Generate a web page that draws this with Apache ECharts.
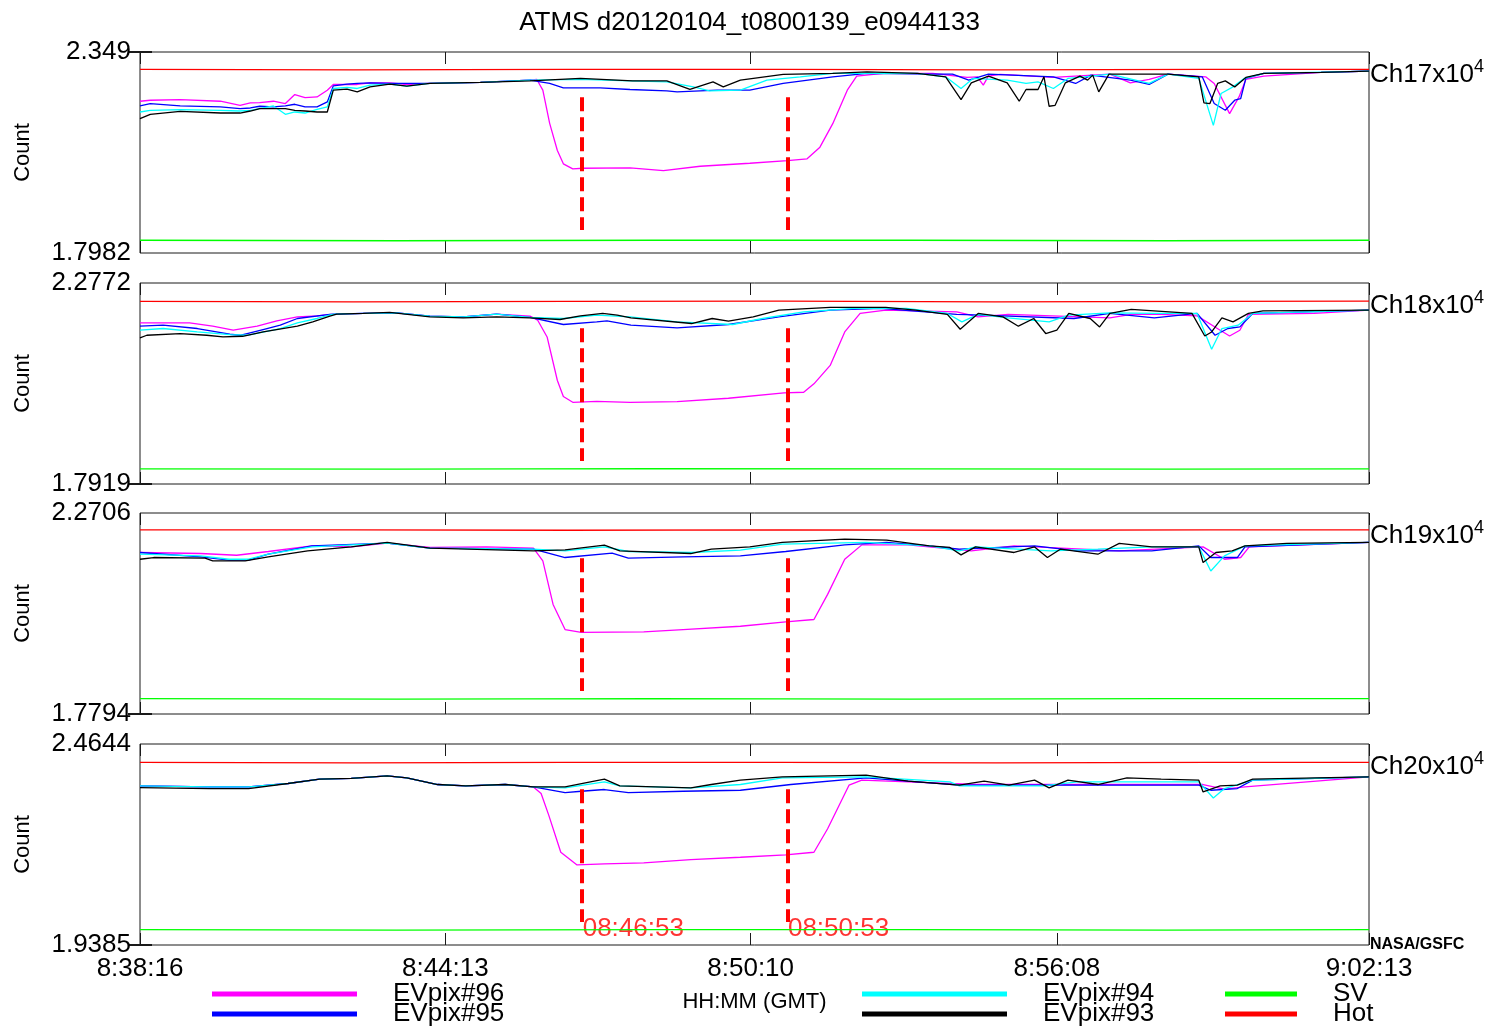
<!DOCTYPE html>
<html>
<head>
<meta charset="utf-8">
<script src="https://cdn.jsdelivr.net/npm/echarts@6/dist/echarts.min.js"></script>
<style>
html,body{margin:0;padding:0;background:#fff;}
#chart{width:1499px;height:1029px;}
</style>
</head>
<body>
<div id="chart"></div>
<script>
// ATMS earth-view / space-view / hot-load counts for channels 17-20 (units of 1e4 counts).
// Time is stored as seconds after 08:38:16 GMT.
const START_SEC = 8 * 3600 + 38 * 60 + 16;
const END_OFFSET = 1437;
const timeTicks = [0, 357, 714, 1072, 1437];
const channels = ['Ch17', 'Ch18', 'Ch19', 'Ch20'];
const yMin = [1.7982, 1.7919, 1.7794, 1.9385];
const yMax = [2.349, 2.2772, 2.2706, 2.4644];
const eventTimes = [517, 757]; // 08:46:53 and 08:50:53

// ---- Ch17 ----
const ch17_pix96 = [[0,2.2141],[12,2.2168],[47,2.2187],[94,2.2141],[117,2.2030],[129,2.2094],[140,2.2105],[156,2.2141],[170,2.2077],[181,2.2325],[193,2.2242],[207,2.2259],[219,2.2444],[226,2.2600],[254,2.2600],[269,2.2645],[292,2.2645],[312,2.2600],[339,2.2628],[398,2.2656],[456,2.2719],[464,2.2738],[471,2.2444],[479,2.1535],[488,2.0791],[495,2.0425],[506,2.0287],[518,2.0304],[573,2.0315],[612,2.0240],[655,2.0359],[713,2.0441],[757,2.0516],[780,2.0562],[795,2.0882],[810,2.1526],[827,2.2444],[838,2.2829],[869,2.2903],[927,2.2903],[967,2.2793],[979,2.2810],[986,2.2581],[992,2.2829],[1006,2.2876],[1023,2.2857],[1068,2.2793],[1134,2.2884],[1158,2.2645],[1180,2.2738],[1202,2.2884],[1246,2.2810],[1256,2.2628],[1274,2.1802],[1285,2.2259],[1293,2.2738],[1314,2.2829],[1381,2.2931],[1437,2.2967]];
const ch17_pix95 = [[0,2.2011],[12,2.2077],[47,2.2011],[94,2.1984],[117,2.1940],[129,2.1956],[140,2.2003],[156,2.1984],[170,2.2011],[181,2.2058],[193,2.1984],[207,2.1984],[219,2.2121],[226,2.2562],[242,2.2609],[254,2.2628],[269,2.2645],[292,2.2628],[339,2.2628],[398,2.2656],[456,2.2719],[479,2.2628],[495,2.2507],[538,2.2507],[573,2.2463],[616,2.2424],[628,2.2397],[675,2.2444],[713,2.2444],[752,2.2628],[810,2.2810],[850,2.2903],[927,2.2884],[950,2.2884],[969,2.2719],[992,2.2884],[1068,2.2810],[1094,2.2628],[1112,2.2857],[1158,2.2719],[1180,2.2600],[1202,2.2884],[1242,2.2810],[1256,2.2077],[1269,2.1893],[1280,2.2168],[1287,2.2215],[1293,2.2766],[1314,2.2903],[1381,2.2931],[1437,2.2967]];
const ch17_pix94 = [[0,2.1846],[12,2.1893],[47,2.1912],[94,2.1893],[117,2.1873],[129,2.1893],[140,2.1940],[156,2.2011],[170,2.1783],[181,2.1846],[193,2.1818],[207,2.1920],[219,2.1984],[226,2.2490],[242,2.2518],[254,2.2490],[269,2.2581],[292,2.2609],[312,2.2554],[339,2.2628],[398,2.2656],[456,2.2719],[515,2.2738],[573,2.2700],[616,2.2672],[647,2.2534],[666,2.2424],[702,2.2444],[733,2.2719],[772,2.2810],[810,2.2903],[909,2.2903],[942,2.2810],[960,2.2490],[974,2.2766],[1014,2.2719],[1036,2.2628],[1050,2.2672],[1068,2.2490],[1085,2.2766],[1104,2.2810],[1134,2.2884],[1180,2.2628],[1202,2.2884],[1238,2.2766],[1255,2.1480],[1264,2.2353],[1278,2.2534],[1291,2.2766],[1314,2.2903],[1437,2.2967]];
const ch17_pix93 = [[0,2.1664],[12,2.1783],[47,2.1865],[94,2.1818],[117,2.1818],[129,2.1873],[140,2.1940],[156,2.1940],[170,2.1940],[181,2.1893],[193,2.1873],[207,2.1846],[219,2.1846],[226,2.2444],[242,2.2471],[254,2.2397],[269,2.2534],[292,2.2609],[312,2.2554],[339,2.2628],[398,2.2656],[456,2.2700],[515,2.2766],[576,2.2700],[616,2.2700],[643,2.2463],[670,2.2672],[682,2.2534],[702,2.2719],[752,2.2876],[810,2.2903],[850,2.2947],[909,2.2903],[942,2.2810],[960,2.2187],[972,2.2645],[992,2.2829],[1014,2.2645],[1028,2.2141],[1036,2.2463],[1050,2.2463],[1057,2.2810],[1063,2.2003],[1070,2.2030],[1082,2.2645],[1099,2.2829],[1108,2.2719],[1114,2.2857],[1121,2.2397],[1133,2.2884],[1202,2.2884],[1238,2.2810],[1244,2.2094],[1251,2.2077],[1260,2.2628],[1269,2.2700],[1280,2.2534],[1293,2.2793],[1314,2.2903],[1381,2.2931],[1437,2.2967]];
const ch17_sv = [[0,1.8332],[300,1.8318],[600,1.8332],[900,1.8332],[1200,1.8318],[1437,1.8332]];
const ch17_hot = [[0,2.3014],[250,2.3000],[500,2.3014],[750,2.3014],[1000,2.3000],[1250,2.3014],[1437,2.3014]];

// ---- Ch18 ----
const ch18_pix96 = [[0,2.1809],[27,2.1809],[58,2.1809],[85,2.1729],[109,2.1632],[137,2.1729],[160,2.1857],[184,2.1954],[207,2.1979],[226,2.2020],[261,2.2037],[300,2.2051],[339,2.1971],[378,2.1954],[417,2.2020],[456,2.1971],[465,2.1874],[476,2.1469],[488,2.0418],[495,2.0030],[506,1.9892],[534,1.9916],[573,1.9892],[628,1.9909],[688,1.9989],[753,2.0120],[776,2.0134],[788,2.0338],[807,2.0782],[824,2.1590],[842,2.2037],[872,2.2117],[955,2.2076],[980,2.1954],[1015,2.2013],[1134,2.1930],[1159,2.2013],[1194,2.2013],[1236,2.1979],[1263,2.1632],[1274,2.1493],[1286,2.1632],[1296,2.2013],[1373,2.2037],[1437,2.2117]];
const ch18_pix95 = [[0,2.1729],[27,2.1753],[67,2.1673],[105,2.1535],[117,2.1510],[144,2.1649],[164,2.1753],[184,2.1915],[222,2.2013],[261,2.2037],[300,2.2051],[339,2.1971],[378,2.1954],[417,2.2020],[456,2.1940],[495,2.1770],[534,2.1833],[546,2.1857],[574,2.1753],[628,2.1687],[688,2.1770],[747,2.1954],[807,2.2117],[866,2.2158],[955,2.2013],[986,2.1996],[1092,2.1915],[1134,2.2037],[1186,2.1930],[1236,2.2037],[1257,2.1510],[1272,2.1673],[1286,2.1712],[1301,2.2037],[1437,2.2117]];
const ch18_pix94 = [[0,2.1632],[27,2.1673],[67,2.1590],[105,2.1527],[125,2.1510],[164,2.1673],[184,2.1809],[207,2.1915],[226,2.2020],[261,2.2037],[300,2.2051],[339,2.1971],[378,2.1954],[417,2.2020],[456,2.1940],[495,2.1915],[534,2.1996],[573,2.1954],[628,2.1833],[693,2.1770],[728,2.1915],[776,2.2076],[836,2.2158],[896,2.2158],[944,2.2037],[961,2.1833],[980,2.2013],[1015,2.1930],[1063,2.1833],[1086,2.1996],[1134,2.2051],[1188,2.2037],[1236,2.2037],[1253,2.1171],[1265,2.1673],[1284,2.1753],[1301,2.2037],[1437,2.2117]];
const ch18_pix93 = [[0,2.1445],[8,2.1510],[47,2.1552],[78,2.1510],[97,2.1469],[120,2.1486],[144,2.1590],[184,2.1729],[202,2.1833],[222,2.1971],[230,2.2020],[261,2.2037],[292,2.2061],[339,2.1954],[378,2.1930],[417,2.1954],[456,2.1930],[491,2.1891],[515,2.1979],[541,2.2037],[558,2.1996],[574,2.1930],[645,2.1794],[669,2.1915],[688,2.1850],[717,2.1954],[747,2.2117],[807,2.2182],[872,2.2182],[907,2.2117],[944,2.2013],[959,2.1656],[980,2.2037],[1009,2.1954],[1027,2.1729],[1045,2.1915],[1059,2.1552],[1072,2.1632],[1086,2.2037],[1111,2.1915],[1122,2.1712],[1134,2.2037],[1159,2.2134],[1230,2.2037],[1245,2.1493],[1253,2.1590],[1265,2.1930],[1278,2.1833],[1296,2.2037],[1313,2.2100],[1437,2.2117]];
const ch18_sv = [[0,1.8283],[300,1.8276],[600,1.8290],[900,1.8283],[1200,1.8276],[1437,1.8283]];
const ch18_hot = [[0,2.2330],[250,2.2318],[500,2.2330],[750,2.2335],[1000,2.2318],[1250,2.2330],[1437,2.2335]];

// ---- Ch19 ----
const ch19_pix96 = [[0,2.1741],[71,2.1716],[113,2.1674],[150,2.1765],[201,2.1903],[247,2.1878],[289,2.1969],[339,2.1864],[405,2.1878],[460,2.1846],[471,2.1534],[483,2.0471],[497,1.9857],[516,1.9791],[589,1.9801],[635,1.9857],[702,1.9938],[755,2.0046],[788,2.0103],[804,2.0717],[824,2.1576],[844,2.1927],[898,2.1927],[972,2.1780],[1022,2.1903],[1145,2.1780],[1243,2.1878],[1268,2.1576],[1287,2.1618],[1297,2.1878],[1437,2.1986]];
const ch19_pix95 = [[0,2.1741],[71,2.1633],[104,2.1552],[127,2.1552],[150,2.1699],[201,2.1903],[289,2.1969],[339,2.1846],[460,2.1822],[497,2.1618],[552,2.1724],[571,2.1601],[635,2.1633],[702,2.1657],[755,2.1765],[824,2.1927],[873,2.1986],[923,2.1903],[958,2.1822],[1046,2.1903],[1096,2.1780],[1183,2.1780],[1238,2.1903],[1252,2.1618],[1283,2.1618],[1292,2.1878],[1437,2.1986]];
const ch19_pix94 = [[0,2.1699],[71,2.1657],[104,2.1576],[127,2.1576],[150,2.1699],[201,2.1878],[289,2.1969],[339,2.1846],[460,2.1822],[497,2.1780],[543,2.1878],[571,2.1765],[644,2.1741],[702,2.1797],[751,2.1945],[849,2.1986],[923,2.1903],[958,2.1780],[977,2.1878],[1065,2.1780],[1120,2.1822],[1183,2.1878],[1238,2.1878],[1252,2.1289],[1268,2.1657],[1292,2.1903],[1437,2.1986]];
const ch19_pix93 = [[0,2.1576],[16,2.1618],[76,2.1601],[85,2.1534],[123,2.1534],[150,2.1633],[196,2.1780],[247,2.1878],[289,2.1986],[339,2.1846],[460,2.1780],[497,2.1805],[543,2.1920],[561,2.1780],[644,2.1716],[668,2.1822],[713,2.1878],[751,2.1986],[824,2.2067],[873,2.2043],[923,2.1903],[947,2.1864],[960,2.1682],[977,2.1878],[1022,2.1741],[1046,2.1878],[1061,2.1618],[1076,2.1822],[1120,2.1699],[1145,2.1962],[1183,2.1878],[1238,2.1878],[1243,2.1495],[1258,2.1741],[1277,2.1780],[1292,2.1903],[1341,2.1962],[1437,2.1986]];
const ch19_sv = [[0,1.8170],[300,1.8158],[600,1.8170],[900,1.8158],[1200,1.8170],[1437,1.8170]];
const ch19_hot = [[0,2.2296],[250,2.2296],[500,2.2284],[750,2.2296],[1000,2.2284],[1250,2.2296],[1437,2.2296]];

// ---- Ch20 ----
const ch20_pix96 = [[0,2.3548],[81,2.3521],[127,2.3521],[173,2.3611],[210,2.3724],[247,2.3742],[289,2.3810],[312,2.3758],[348,2.3584],[381,2.3548],[427,2.3584],[460,2.3521],[469,2.3348],[478,2.2777],[492,2.1812],[511,2.1481],[543,2.1507],[589,2.1533],[644,2.1620],[702,2.1681],[755,2.1744],[788,2.1812],[804,2.2427],[829,2.3566],[844,2.3697],[898,2.3653],[977,2.3584],[1145,2.3584],[1243,2.3584],[1268,2.3461],[1292,2.3521],[1437,2.3784]];
const ch20_pix95 = [[0,2.3548],[81,2.3521],[127,2.3521],[173,2.3611],[210,2.3724],[247,2.3742],[289,2.3810],[312,2.3758],[348,2.3584],[381,2.3548],[427,2.3584],[460,2.3521],[497,2.3374],[516,2.3408],[543,2.3453],[571,2.3374],[635,2.3408],[702,2.3434],[761,2.3584],[849,2.3758],[909,2.3653],[958,2.3566],[1183,2.3566],[1238,2.3566],[1252,2.3434],[1283,2.3479],[1301,2.3697],[1437,2.3784]];
const ch20_pix94 = [[0,2.3548],[81,2.3521],[127,2.3521],[173,2.3611],[210,2.3724],[247,2.3742],[289,2.3810],[312,2.3758],[348,2.3584],[381,2.3548],[427,2.3584],[460,2.3521],[497,2.3495],[543,2.3653],[561,2.3548],[644,2.3495],[702,2.3584],[751,2.3758],[849,2.3784],[947,2.3653],[958,2.3548],[1056,2.3548],[1096,2.3653],[1238,2.3653],[1255,2.3232],[1268,2.3479],[1301,2.3697],[1437,2.3784]];
const ch20_pix93 = [[0,2.3505],[81,2.3479],[127,2.3479],[173,2.3611],[210,2.3724],[247,2.3742],[289,2.3810],[312,2.3758],[348,2.3584],[381,2.3548],[427,2.3584],[460,2.3521],[497,2.3521],[543,2.3724],[561,2.3548],[644,2.3495],[668,2.3584],[702,2.3697],[751,2.3784],[849,2.3829],[898,2.3671],[958,2.3566],[987,2.3671],[1016,2.3566],[1046,2.3697],[1063,2.3495],[1085,2.3697],[1120,2.3584],[1154,2.3758],[1194,2.3724],[1238,2.3697],[1243,2.3390],[1263,2.3548],[1283,2.3566],[1301,2.3724],[1437,2.3784]];
const ch20_sv = [[0,1.9787],[300,1.9774],[600,1.9787],[900,1.9787],[1200,1.9774],[1437,1.9787]];
const ch20_hot = [[0,2.4163],[250,2.4150],[500,2.4163],[750,2.4163],[1000,2.4150],[1250,2.4163],[1437,2.4163]];

const panels = [
  { p96: ch17_pix96, p95: ch17_pix95, p94: ch17_pix94, p93: ch17_pix93, sv: ch17_sv, hot: ch17_hot },
  { p96: ch18_pix96, p95: ch18_pix95, p94: ch18_pix94, p93: ch18_pix93, sv: ch18_sv, hot: ch18_hot },
  { p96: ch19_pix96, p95: ch19_pix95, p94: ch19_pix94, p93: ch19_pix93, sv: ch19_sv, hot: ch19_hot },
  { p96: ch20_pix96, p95: ch20_pix95, p94: ch20_pix94, p93: ch20_pix93, sv: ch20_sv, hot: ch20_hot }
];

const FONT = "'Liberation Sans', Arial, sans-serif";
const gridTops = [52, 283, 513, 744];
const gridLeft = 140, gridWidth = 1229, gridHeight = 201;

function pad2(n) { return (n < 10 ? '0' : '') + n; }
function clock(t, padHour) {
  const s = START_SEC + t;
  const h = Math.floor(s / 3600), m = Math.floor((s % 3600) / 60), sec = s % 60;
  return (padHour ? pad2(h) : String(h)) + ':' + pad2(m) + ':' + pad2(sec);
}

const grid = gridTops.map(top => ({
  left: gridLeft, top: top, width: gridWidth, height: gridHeight,
  show: true, borderColor: '#1a1a1a', borderWidth: 1, backgroundColor: '#fff'
}));

const xAxis = [];
// bottom axes (indices 0-3) carry the data
gridTops.forEach((_, i) => {
  xAxis.push({
    type: 'value', gridIndex: i, position: 'bottom', min: 0, max: END_OFFSET,
    axisLine: { show: false },
    axisTick: { show: true, inside: true, length: 12, customValues: timeTicks, lineStyle: { color: '#1a1a1a', width: 1 } },
    axisLabel: {
      show: i === 3, customValues: timeTicks, margin: 11,
      formatter: v => clock(v, false),
      fontSize: 26, color: '#000', fontFamily: FONT
    },
    splitLine: { show: false },
    name: i === 3 ? 'HH:MM (GMT)' : '',
    nameLocation: 'middle', nameGap: 46,
    nameTextStyle: { fontSize: 22, color: '#000', fontFamily: FONT }
  });
});
// top axes (indices 4-7) only carry tick marks
gridTops.forEach((_, i) => {
  xAxis.push({
    type: 'value', gridIndex: i, position: 'top', min: 0, max: END_OFFSET,
    axisLine: { show: false },
    axisTick: { show: true, inside: true, length: 12, customValues: timeTicks, lineStyle: { color: '#1a1a1a', width: 1 } },
    axisLabel: { show: false },
    splitLine: { show: false }
  });
});

const yAxis = [];
gridTops.forEach((_, i) => {
  const tickAt = i === 0 ? [yMax[i]] : [yMin[i]];
  yAxis.push({
    type: 'value', gridIndex: i, position: 'left', min: yMin[i], max: yMax[i],
    axisLine: { show: false },
    axisTick: { show: true, inside: true, length: 12, customValues: tickAt, lineStyle: { color: '#1a1a1a', width: 2 } },
    axisLabel: {
      customValues: [yMin[i], yMax[i]], margin: 9,
      formatter: v => String(v), fontSize: 26, color: '#000', fontFamily: FONT
    },
    splitLine: { show: false },
    name: 'Count', nameLocation: 'middle', nameGap: 106, nameRotate: 90,
    nameTextStyle: { fontSize: 22, color: '#000', fontFamily: FONT }
  });
});
gridTops.forEach((_, i) => {
  const tickAt = i === 0 ? [yMax[i]] : [yMin[i]];
  yAxis.push({
    type: 'value', gridIndex: i, position: 'right', min: yMin[i], max: yMax[i],
    axisLine: { show: false },
    axisTick: { show: true, inside: true, length: 12, customValues: tickAt, lineStyle: { color: '#1a1a1a', width: 2 } },
    axisLabel: { show: false },
    splitLine: { show: false }
  });
});

const seriesDefs = [
  { key: 'p96', name: 'EVpix#96', color: '#ff00ff' },
  { key: 'p95', name: 'EVpix#95', color: '#0000ff' },
  { key: 'p94', name: 'EVpix#94', color: '#00ffff' },
  { key: 'p93', name: 'EVpix#93', color: '#000000' },
  { key: 'sv',  name: 'SV',       color: '#00ff00' },
  { key: 'hot', name: 'Hot',      color: '#ff0000' }
];

const series = [];
panels.forEach((p, i) => {
  const range = yMax[i] - yMin[i];
  seriesDefs.forEach(d => {
    const s = {
      type: 'line', name: d.name, data: p[d.key],
      xAxisIndex: i, yAxisIndex: i,
      color: d.color, showSymbol: false, symbol: 'none',
      lineStyle: { color: d.color, width: 1.3 },
      silent: true
    };
    if (d.key === 'hot') {
      // dashed event markers spanning the middle of each panel
      s.markLine = {
        silent: true, symbol: ['none', 'none'], animation: false,
        label: { show: false },
        lineStyle: { color: '#ff0000', width: 4, type: [14, 6], opacity: 1 },
        data: eventTimes.map(t => [
          { coord: [t, yMax[i] - 0.225 * range] },
          { coord: [t, yMax[i] - 0.885 * range] }
        ])
      };
    }
    series.push(s);
  });
});

// event time labels under the markers in the last panel
const lastRange = yMax[3] - yMin[3];
series.push({
  type: 'scatter', name: 'events', xAxisIndex: 3, yAxisIndex: 3,
  symbolSize: 1, itemStyle: { color: 'rgba(0,0,0,0)' }, silent: true,
  data: eventTimes.map(t => [t, yMax[3] - 0.92 * lastRange]),
  label: {
    show: true, position: 'right', distance: 0,
    formatter: prm => clock(prm.value[0], true),
    color: '#ff0000', fontSize: 26, fontFamily: FONT
  }
});

const legendBase = {
  orient: 'vertical', itemHeight: 5, itemGap: -6, icon: 'rect', padding: 0,
  height: 120, selectedMode: false,
  textStyle: { fontSize: 26, lineHeight: 21, color: '#000', fontFamily: FONT, padding: [0, 0, 0, 31] }
};

const option = {
  animation: false,
  backgroundColor: '#fff',
  textStyle: { fontFamily: FONT },
  title: {
    text: 'ATMS d20120104_t0800139_e0944133', left: 'center', top: 5,
    textStyle: { fontSize: 26, fontWeight: 'normal', color: '#000', fontFamily: FONT }
  },
  grid, xAxis, yAxis, series,
  legend: [
    Object.assign({}, legendBase, { data: ['EVpix#96', 'EVpix#95'], left: 212, top: 981, itemWidth: 145 }),
    Object.assign({}, legendBase, { data: ['EVpix#94', 'EVpix#93'], left: 862, top: 981, itemWidth: 145 }),
    Object.assign({}, legendBase, { data: ['SV', 'Hot'], left: 1225, top: 981, itemWidth: 72 })
  ],
  graphic: channels.map((c, i) => ({
    type: 'text', left: 1370, top: gridTops[i] + 6, silent: true,
    style: {
      text: '{a|' + c + 'x10}{b|4}',
      rich: {
        a: { fontSize: 26, lineHeight: 30, verticalAlign: 'bottom', fill: '#000', fontFamily: FONT },
        b: { fontSize: 18, lineHeight: 12, verticalAlign: 'top', fill: '#000', fontFamily: FONT }
      }
    }
  })).concat([{
    type: 'text', left: 1370, top: 937, silent: true,
    style: { text: 'NASA/GSFC', fontSize: 16, fontWeight: 'bold', fill: '#000', fontFamily: FONT }
  }])
};

const chart = echarts.init(document.getElementById('chart'), null, { renderer: 'canvas' });
chart.setOption(option);
</script>
</body>
</html>
